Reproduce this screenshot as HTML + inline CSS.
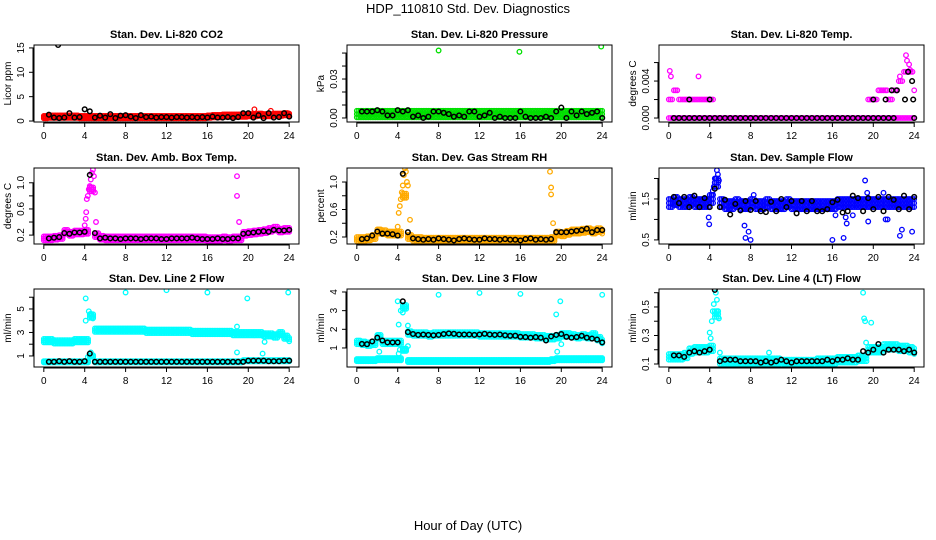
<!DOCTYPE html>
<html><head><meta charset="utf-8"><style>
html,body{margin:0;padding:0;background:#fff;}
svg{display:block;font-family:"Liberation Sans",sans-serif;}
</style></head><body>
<svg id="chart" width="936" height="540" viewBox="0 0 936 540" xmlns="http://www.w3.org/2000/svg">
<text x="468" y="13" text-anchor="middle" font-size="13">HDP_110810  Std. Dev. Diagnostics</text>
<text x="468" y="530" text-anchor="middle" font-size="13">Hour of Day (UTC)</text>
</svg>
<script>
// hourly grid: index i -> hour i*0.5
const xTicks = [0,4,8,12,16,20,24];

const co2Red = [0.8,0.9,0.9,0.9,0.9,0.9,0.9,0.8,0.8,0.8,0.8,0.8,0.8,0.8,0.8,0.8,0.8,0.8,0.8,0.8,0.8,0.8,0.8,0.8,0.8,0.8,0.8,0.8,0.8,0.8,0.8,0.8,0.9,1.0,1.0,1.1,1.1,1.1,1.1,1.1,1.2,1.2,1.3,1.2,1.2,1.3,1.3,1.4,1.3];
const co2Black = [null,1.3,0.7,0.6,0.7,1.6,0.7,0.8,2.4,2.0,0.7,1.1,0.7,1.4,0.6,1.1,1.2,0.9,0.6,1.2,0.8,0.9,0.7,0.8,0.8,0.7,0.8,0.8,0.7,0.8,0.7,0.8,0.7,0.9,0.7,0.7,0.8,0.6,0.8,1.6,1.6,0.7,1.2,0.6,1.6,0.7,0.8,1.6,0.9];
const co2ExtraRed = [[20.6,2.4],[22.2,2.1]];
const co2ExtraBlack = [[1.4,15.6]];

const presGreen = [0.003,0.003,0.003,0.003,0.003,0.003,0.003,0.003,0.003,0.003,0.003,0.003,0.003,0.003,0.003,0.003,0.003,0.003,0.003,0.003,0.003,0.003,0.003,0.003,0.003,0.003,0.003,0.003,0.003,0.003,0.003,0.003,0.003,0.003,0.003,0.003,0.003,0.003,0.003,0.003,0.003,0.003,0.003,0.003,0.003,0.003,0.003,0.003,0.003];
const presBlack = [null,0.005,0.005,0.005,0.006,0.005,0.002,0.002,0.006,0.005,0.006,0.001,0.002,0.000,0.001,0.005,0.005,0.004,0.003,0.001,0.002,0.001,0.005,0.005,0.001,0.002,0.004,0.000,0.001,0.000,0.000,0.000,0.005,0.001,0.000,0.000,0.000,0.001,0.000,0.005,0.008,0.000,0.005,0.002,0.005,0.003,0.004,0.005,0.000];
const presExtraGreen = [[8,0.052],[15.9,0.051],[23.9,0.055]];

const tempMagenta = [0,0,0,0,0,0,0,0,0,0,0,0,0,0,0,0,0,0,0,0,0,0,0,0,0,0,0,0,0,0,0,0,0,0,0,0,0,0,0,0,0,0,0,0,0,0,0,0,0];
const tempMagentaUpper = [0.002,0.003,0.002,0.002,0.002,0.002,0.002,0.002,0.002,null,null,null,null,null,null,null,null,null,null,null,null,null,null,null,null,null,null,null,null,null,null,null,null,null,null,null,null,null,null,0.002,0.002,0.003,0.003,0.002,0.003,0.004,0.005,0.005,0.003];
const tempBlack = [null,0,0,0,0,0,0,0,0,0,0,0,0,0,0,0,0,0,0,0,0,0,0,0,0,0,0,0,0,0,0,0,0,0,0,0,0,0,0,0,0,0,0,0,0,null,null,null,0];
const tempExtraMagenta = [[0.1,0.0051],[0.2,0.0045],[2.9,0.0045],[22.6,0.0045],[23.2,0.0068],[23.3,0.0062],[23.5,0.0058],[23.6,0.0052]];
const tempExtraBlack = [[2.0,0.002],[4.0,0.002],[20.0,0.002],[21.2,0.002],[21.8,0.003],[22.3,0.003],[23.1,0.002],[23.4,0.005],[23.8,0.004],[23.9,0.002]];

const ambMagenta = [0.15,0.15,0.16,0.17,0.25,0.22,0.24,0.24,0.25,0.9,0.2,0.16,0.15,0.15,0.15,0.15,0.15,0.15,0.15,0.15,0.15,0.15,0.15,0.15,0.15,0.15,0.15,0.15,0.15,0.15,0.15,0.15,0.14,0.14,0.14,0.15,0.14,0.15,0.15,0.22,0.23,0.24,0.25,0.26,0.28,0.3,0.27,0.28,0.28];
const ambBlack = [null,0.15,0.16,0.17,0.23,0.22,0.24,0.24,0.25,1.12,0.23,0.15,0.16,0.15,0.15,0.14,0.15,0.15,0.15,0.14,0.15,0.15,0.15,0.14,0.14,0.15,0.15,0.15,0.15,0.16,0.15,0.14,0.14,0.14,0.15,0.14,0.14,0.15,0.15,0.22,0.23,0.24,0.25,0.26,0.25,0.28,0.27,0.27,0.28];
const ambExtraMagenta = [[4.0,0.35],[4.1,0.45],[4.15,0.55],[4.2,0.75],[4.3,0.8],[4.4,0.9],[4.5,0.95],[4.6,1.05],[4.7,1.15],[4.8,1.2],[4.9,1.1],[5.0,0.85],[5.1,0.4],[18.9,1.1],[18.9,0.8],[19.1,0.4]];

const rhOrange = [0.17,0.17,0.18,0.2,0.28,0.27,0.25,0.25,0.25,0.8,0.2,0.17,0.17,0.16,0.16,0.16,0.16,0.16,0.16,0.16,0.16,0.16,0.16,0.16,0.16,0.16,0.16,0.16,0.16,0.16,0.16,0.16,0.16,0.16,0.16,0.16,0.16,0.16,0.17,0.25,0.24,0.26,0.28,0.28,0.29,0.3,0.28,0.3,0.28];
const rhBlack = [null,0.17,0.18,0.22,0.28,0.25,0.25,0.24,0.22,1.12,0.27,0.18,0.17,0.16,0.17,0.16,0.18,0.17,0.16,0.15,0.17,0.18,0.17,0.16,0.16,0.18,0.17,0.17,0.16,0.17,0.16,0.16,0.15,0.17,0.18,0.16,0.17,0.16,0.17,0.27,0.27,0.27,0.28,0.29,0.3,0.32,0.27,0.3,0.3];
const rhExtraOrange = [[4.0,0.35],[4.1,0.55],[4.2,0.65],[4.3,0.75],[4.4,0.85],[4.5,0.95],[4.6,1.1],[4.7,1.2],[4.8,1.15],[4.9,1.0],[5.0,0.95],[5.2,0.45],[18.9,1.15],[19.0,0.92],[19.0,0.82],[19.2,0.4]];

const flowBlue = [1.4,1.45,1.4,1.4,1.45,1.4,1.4,1.4,1.5,1.9,1.4,1.35,1.35,1.4,1.35,1.35,1.4,1.35,1.35,1.4,1.35,1.35,1.35,1.4,1.35,1.35,1.35,1.35,1.35,1.35,1.35,1.35,1.35,1.4,1.4,1.4,1.4,1.4,1.4,1.4,1.4,1.4,1.4,1.4,1.4,1.4,1.4,1.4,1.4];
const flowBlack = [null,1.55,1.4,1.55,1.3,1.58,1.3,1.52,1.3,1.75,1.3,1.48,1.12,1.38,1.22,1.45,1.23,1.45,1.2,1.18,1.43,1.2,1.5,1.3,1.45,1.15,1.45,1.2,1.45,1.2,1.2,1.25,1.42,1.48,1.17,1.2,1.58,1.52,1.2,1.52,1.25,1.55,1.2,1.55,1.48,1.25,1.58,1.25,1.55];
const flowExtraBlue = [[3.9,1.05],[3.95,0.88],[4.2,1.6],[4.3,1.7],[4.4,1.8],[4.5,1.9],[4.6,2.0],[4.7,2.2],[4.8,2.1],[4.9,1.95],[7.4,0.85],[7.5,0.55],[7.8,0.7],[8.0,0.5],[8.3,1.6],[16,0.5],[16.3,1.1],[17.1,0.55],[17.3,1.05],[17.4,0.9],[18,1.1],[19.2,1.95],[19.4,1.65],[19.5,0.95],[21,1.65],[21.2,1.0],[21.4,1.0],[22.6,0.6],[22.8,0.75],[23.8,0.7]];

const line2Upper = [2.3,2.3,2.2,2.2,2.2,2.2,2.3,2.3,2.3,4.4,3.2,3.2,3.2,3.2,3.2,3.2,3.2,3.2,3.2,3.2,3.1,3.1,3.1,3.1,3.1,3.1,3.1,3.1,3.1,3.0,3.0,3.0,3.0,3.0,3.0,3.0,3.0,2.9,2.9,2.9,2.9,2.9,2.9,2.8,2.8,2.7,2.9,2.6,2.4];
const line2Lower = [0.5,0.5,0.5,0.5,0.5,0.5,0.5,0.5,0.5,1.0,0.5,0.5,0.5,0.5,0.5,0.5,0.5,0.5,0.5,0.5,0.5,0.5,0.5,0.5,0.5,0.5,0.5,0.5,0.5,0.5,0.5,0.5,0.5,0.5,0.5,0.5,0.5,0.5,0.5,0.6,0.6,0.6,0.6,0.6,0.6,0.6,0.6,0.6,0.6];
const line2Black = [null,0.5,0.5,0.55,0.5,0.55,0.5,0.5,0.55,1.2,0.5,0.5,0.5,0.5,0.5,0.5,0.5,0.5,0.5,0.5,0.5,0.5,0.5,0.5,0.5,0.5,0.5,0.5,0.5,0.5,0.5,0.5,0.5,0.5,0.5,0.5,0.5,0.5,0.5,0.5,0.6,0.6,0.6,0.6,0.55,0.55,0.55,0.6,0.6];
const line2ExtraCyan = [[4.1,5.9],[8,6.4],[12,6.6],[16,6.4],[19.9,5.9],[23.9,6.4],[18.9,3.5],[18.9,1.3],[21.4,1.2],[21.6,2.2],[4.1,4.0],[4.4,4.8],[4.6,4.6],[4.8,4.2],[4.6,1.3],[4.3,0.9]];

const line3Upper = [1.3,1.25,1.2,1.25,1.6,1.3,1.3,1.3,1.3,3.2,1.8,1.75,1.75,1.75,1.7,1.75,1.75,1.75,1.75,1.75,1.75,1.75,1.75,1.75,1.7,1.7,1.7,1.7,1.7,1.7,1.7,1.7,1.65,1.65,1.65,1.6,1.6,1.55,1.55,1.6,1.7,1.7,1.65,1.6,1.65,1.6,1.7,1.5,1.35];
const line3Lower = [0.35,0.35,0.35,0.35,0.4,0.4,0.4,0.4,0.4,0.9,0.3,0.3,0.3,0.3,0.3,0.3,0.3,0.3,0.3,0.3,0.3,0.3,0.3,0.3,0.3,0.3,0.3,0.3,0.3,0.3,0.3,0.3,0.3,0.3,0.3,0.3,0.3,0.3,0.35,0.4,0.4,0.4,0.4,0.4,0.4,0.4,0.4,0.4,0.4];
const line3Black = [null,1.22,1.2,1.35,1.55,1.4,1.3,1.3,1.3,3.5,1.85,1.75,1.7,1.72,1.7,1.68,1.7,1.75,1.78,1.76,1.72,1.72,1.72,1.7,1.72,1.76,1.72,1.7,1.72,1.68,1.65,1.66,1.6,1.58,1.55,1.58,1.55,1.4,1.62,1.7,1.75,1.6,1.55,1.58,1.65,1.55,1.5,1.45,1.3];
const line3ExtraCyan = [[4.0,3.5],[4.1,2.25],[4.3,3.0],[4.5,2.9],[4.7,3.2],[5.0,2.2],[5.0,1.1],[8,3.85],[12,3.95],[16,3.9],[19.5,2.8],[19.6,0.8],[19.9,3.5],[20.0,1.2],[24,3.85],[2.1,1.7],[2.2,0.8],[4.1,0.7],[4.2,0.9]];

const line4Cyan = [0.15,0.15,0.15,0.16,0.19,0.2,0.2,0.2,0.21,0.45,0.12,0.12,0.12,0.12,0.12,0.12,0.12,0.12,0.12,0.12,0.12,0.12,0.11,0.11,0.11,0.11,0.11,0.11,0.11,0.12,0.12,0.12,0.12,0.13,0.13,0.13,0.13,0.14,0.14,0.2,0.2,0.2,0.22,0.22,0.22,0.21,0.21,0.2,0.19];
const line4Black = [null,0.16,0.16,0.15,0.18,0.19,0.18,0.19,0.2,0.62,0.12,0.13,0.13,0.13,0.12,0.12,0.12,0.12,0.11,0.12,0.11,0.12,0.13,0.12,0.11,0.12,0.12,0.12,0.12,0.12,0.12,0.13,0.12,0.13,0.13,0.14,0.13,0.13,0.19,0.18,0.2,0.24,0.18,0.2,0.2,0.2,0.19,0.2,0.18];
const line4ExtraCyan = [[4.0,0.32],[4.1,0.28],[4.2,0.4],[4.3,0.47],[4.4,0.52],[4.6,0.6],[4.7,0.55],[4.8,0.47],[4.9,0.42],[5.0,0.18],[9.8,0.18],[19.0,0.6],[19.1,0.42],[19.2,0.4],[19.8,0.39],[19.3,0.25]];

const panelTitles = ["Stan. Dev. Li-820 CO2","Stan. Dev. Li-820 Pressure","Stan. Dev. Li-820 Temp.","Stan. Dev. Amb. Box Temp.","Stan. Dev. Gas Stream RH","Stan. Dev. Sample Flow","Stan. Dev. Line 2 Flow","Stan. Dev. Line 3 Flow","Stan. Dev. Line 4 (LT) Flow"];
const yTitles = ["Licor ppm","kPa","degrees C","degrees C","percent","ml/min","ml/min","ml/min","ml/min"];
const yTicks = [[0,5,10,15],[0,0.01,0.02,0.03,0.04,0.05],[0,0.002,0.004,0.006],[0.2,0.4,0.6,0.8,1.0],[0.2,0.4,0.6,0.8,1.0],[0.5,1.0,1.5,2.0],[1,2,3,4,5,6],[1,2,3,4],[0.1,0.2,0.3,0.4,0.5,0.6]];
const yTickLabels = [["0","5","10","15"],["0.00","","","0.03","",""],["0.000","","0.004",""],["0.2","","0.6","","1.0"],["0.2","","0.6","","1.0"],["0.5","","1.5",""],["1","","3","","5",""],["1","2","3","4"],["0.1","","0.3","","0.5",""]];

const W = 265, LEFTS=[34,347,659], TOPS=[45,168,289], BOTS=[122,244,367];
const YLIM = [[-0.2,15.6],[-0.0031,0.0562],[-0.00043,0.0079],[0.064,1.226],[0.098,1.204],[0.40,2.256],[0.06,6.7],[-0.02,4.16],[0.079,0.626]];

const panels = [
 {series:[{v:co2Red,c:"#ff0000",s:0.25}], black:co2Black, extra:[[co2ExtraRed,"#ff0000"],[co2ExtraBlack,"#000"]]},
 {series:[{v:presGreen,c:"#00e000",s:0.0025}], black:presBlack, extra:[[presExtraGreen,"#00e000"]]},
 {series:[{v:tempMagenta,c:"#ff00ff",s:0},{v:tempMagentaUpper,c:"#ff00ff",s:0}], black:tempBlack, extra:[[tempExtraMagenta,"#ff00ff"],[tempExtraBlack,"#000"]]},
 {series:[{v:ambMagenta,c:"#ff00ff",s:0.03}], black:ambBlack, extra:[[ambExtraMagenta,"#ff00ff"]]},
 {series:[{v:rhOrange,c:"#ffaa00",s:0.03}], black:rhBlack, extra:[[rhExtraOrange,"#ffaa00"]]},
 {series:[{v:flowBlue,c:"#0000ff",s:0.1}], black:flowBlack, extra:[[flowExtraBlue,"#0000ff"]]},
 {series:[{v:line2Upper,c:"#00ffff",s:0.15},{v:line2Lower,c:"#00ffff",s:0.06}], black:line2Black, extra:[[line2ExtraCyan,"#00ffff"]]},
 {series:[{v:line3Upper,c:"#00ffff",s:0.1},{v:line3Lower,c:"#00ffff",s:0.06}], black:line3Black, extra:[[line3ExtraCyan,"#00ffff"]]},
 {series:[{v:line4Cyan,c:"#00ffff",s:0.02}], black:line4Black, extra:[[line4ExtraCyan,"#00ffff"]]}
];

const NS="http://www.w3.org/2000/svg";
const svg=document.getElementById('chart');
function mk(tag,attrs,parent){const e=document.createElementNS(NS,tag);for(const k in attrs)e.setAttribute(k,attrs[k]);(parent||svg).appendChild(e);return e;}

panels.forEach((p,pi)=>{
  const L=LEFTS[pi%3], T=TOPS[Math.floor(pi/3)], B=BOTS[Math.floor(pi/3)];
  const [y0,y1]=YLIM[pi];
  const xs=h=>L+(h+0.96)/25.92*W;
  const ys=v=>B-(v-y0)/(y1-y0)*(B-T);
  const g=mk('g',{});
  
  
  const clip=mk('clipPath',{id:'cp'+pi},g);
  mk('rect',{x:L,y:T,width:W,height:B-T},clip);
  const pts=mk('g',{'clip-path':'url(#cp'+pi+')'},g);
  
  
  function dot(h,v,c,sw){const e=mk('circle',{cx:xs(h).toFixed(1),cy:ys(v).toFixed(1),r:2.3,fill:'none',stroke:c,'stroke-width':sw},pts);
    
    }
  p.series.forEach(s=>{
    s.v.forEach((v,i)=>{
      if(v===null)return;
      for(let q=0;q<3;q++){const h=i*0.5+q*0.167;if(h>24)break;
        dot(h,v,s.c,1.2);
        if(s.s>0){dot(h,v-s.s,s.c,1.2);dot(h,v+s.s,s.c,1.2);}
      }
    });
  });
  p.extra.filter(e=>e[1]!=="#000").forEach(([arr,c])=>arr.forEach(([h,v])=>dot(h,v,c,1.3)));
  p.black.forEach((v,i)=>{if(v!==null)dot(i*0.5,v,'#000',1.5);});
  p.extra.filter(e=>e[1]==="#000").forEach(([arr,c])=>arr.forEach(([h,v])=>dot(h,v,c,1.5)));
  const box=mk('rect',{x:L,y:T,width:W,height:B-T,fill:'none',stroke:'#000','stroke-width':1},g);
  
  
  const xa=mk('g',{},g);
  
  
  mk('line',{x1:xs(0),x2:xs(24),y1:B+1,y2:B+1,stroke:'#000'},xa);
  xTicks.forEach(t=>{mk('line',{x1:xs(t),x2:xs(t),y1:B,y2:B+5,stroke:'#000'},xa);
    const tx=mk('text',{x:xs(t),y:B+17,'text-anchor':'middle','font-size':10},xa);tx.textContent=t;
    
    });
  const ya=mk('g',{},g);
  
  
  const yt=yTicks[pi];
  mk('line',{x1:L-1,x2:L-1,y1:ys(yt[0]),y2:ys(yt[yt.length-1]),stroke:'#000'},ya);
  yt.forEach((t,k)=>{mk('line',{x1:L-5,x2:L,y1:ys(t),y2:ys(t),stroke:'#000'},ya);
    const lab=yTickLabels[pi][k];
    if(lab){const tx=mk('text',{x:0,y:0,'text-anchor':'middle','font-size':10,transform:`translate(${L-10},${ys(t).toFixed(1)}) rotate(-90)`},ya);tx.textContent=lab;
      
      }
  });
  const ytl=mk('text',{x:0,y:0,'text-anchor':'middle','font-size':10,transform:`translate(${L-23},${(T+B)/2}) rotate(-90)`},g);ytl.textContent=yTitles[pi];
  
  
  const ttl=mk('text',{x:L+W/2,y:T-7,'text-anchor':'middle','font-size':11,'font-weight':'bold'},g);ttl.textContent=panelTitles[pi];
  
  
});
</script>
</body></html>
